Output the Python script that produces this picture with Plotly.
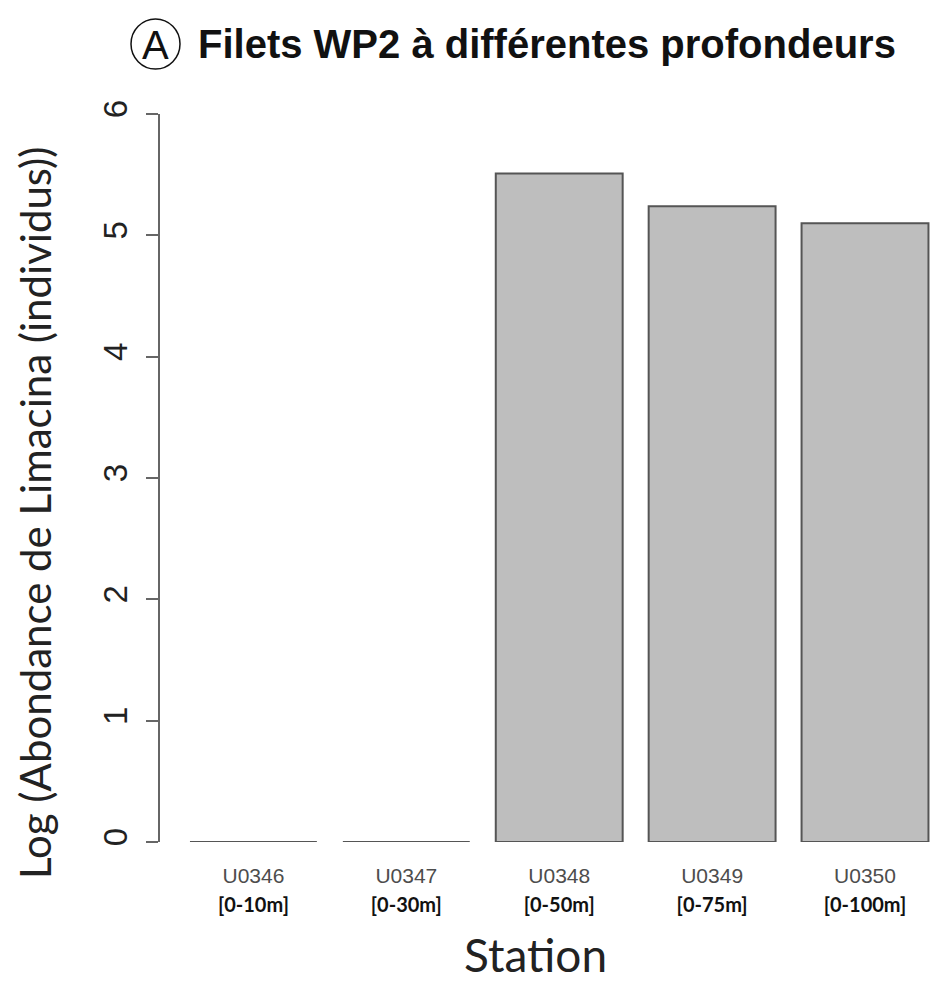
import plotly.graph_objects as go

stations = ["U0346", "U0347", "U0348", "U0349", "U0350"]
depths = ["[0-10m]", "[0-30m]", "[0-50m]", "[0-75m]", "[0-100m]"]
log_abundance = [0.0, 0.0, 5.51, 5.24, 5.10]
y_ticks = [0, 1, 2, 3, 4, 5, 6]

W, H = 930, 993
ML, MR, MT, MB = 160, 0, 114, 151
PW, PH = W - ML - MR, H - MT - MB

def px(x):
    return (x - ML) / PW

def py(y):
    return (H - MB - y) / PH

positions = list(range(len(stations)))
ticktext = [
    f"<span style='font-family:Liberation Sans, Arial;color:#4d4d4d;font-size:21px'>{s}</span><br>"
    f"<b><span style='font-family:Lato, Open Sans;color:#111111;font-size:20px'>{d}</span></b>"
    for s, d in zip(stations, depths)
]

fig = go.Figure()
fig.add_trace(go.Bar(
    x=positions, y=log_abundance, width=0.83,
    marker=dict(color="#bebebe", line=dict(color="#555555", width=2)),
    cliponaxis=False,
))

fig.update_layout(
    width=W, height=H,
    margin=dict(l=ML, r=MR, t=MT, b=MB),
    paper_bgcolor="white", plot_bgcolor="white",
    showlegend=False,
    xaxis=dict(
        range=[-0.611, 4.425], tickvals=positions, ticktext=ticktext,
        showgrid=False, zeroline=False, showline=False, ticks="",
        tickfont=dict(size=22), ticklabelstandoff=18,
    ),
    yaxis=dict(
        range=[0, 6], tickvals=y_ticks, showgrid=False, zeroline=False,
        showline=True, linecolor="#666666", linewidth=1.5,
        ticks="outside", ticklen=12, tickcolor="#666666", tickwidth=1.5,
        tickangle=-90, tickfont=dict(family="Liberation Sans, Arial", size=33, color="#222222"),
        ticklabelstandoff=6,
    ),
    font=dict(family="Liberation Sans, Arial"),
)

fig.add_shape(type="circle", xref="paper", yref="paper",
              x0=px(131), x1=px(180), y0=py(69), y1=py(19),
              line=dict(color="#111111", width=1.5))
fig.add_annotation(x=px(155.5), y=py(45), xref="paper", yref="paper", text="A",
                   xanchor="center", yanchor="middle",
                   showarrow=False, font=dict(family="Liberation Sans", size=40, color="#111111"))
fig.add_annotation(x=px(196), y=py(44), xref="paper", yref="paper", xanchor="left", yanchor="middle",
                   text="<b>Filets WP2 à différentes profondeurs</b>",
                   showarrow=False, font=dict(family="Liberation Sans", size=40, color="#111111"))
fig.add_annotation(x=px(35), y=py(513), xref="paper", yref="paper", textangle=-90,
                   xanchor="center", yanchor="middle",
                   text="Log (Abondance de Limacina (individus))",
                   showarrow=False, font=dict(family="Lato", size=42, color="#222222"))
fig.add_annotation(x=px(535), y=py(955), xref="paper", yref="paper",
                   xanchor="center", yanchor="middle",
                   text="Station", showarrow=False,
                   font=dict(family="Lato", size=46, color="#222222"))

fig.write_html("out.html")
